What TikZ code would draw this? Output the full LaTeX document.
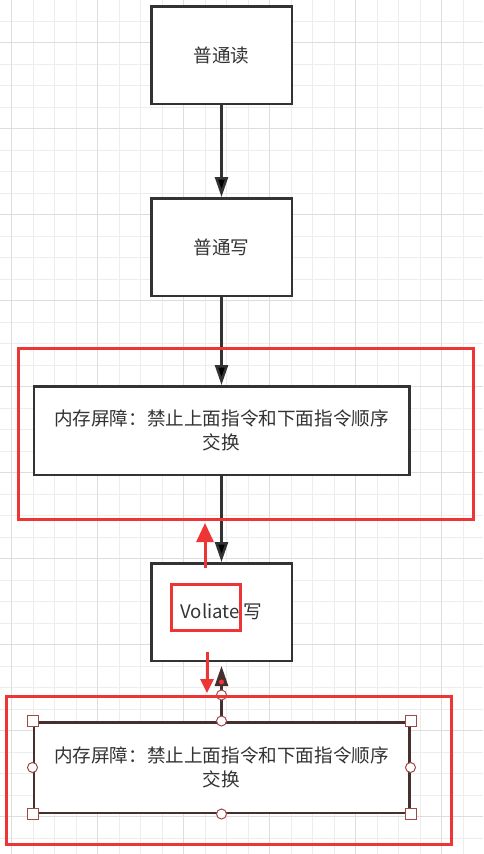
\documentclass[tikz,border=0pt]{standalone}
\usepackage{fontspec}
\newfontfamily\cjk{Noto Sans CJK SC}
\usetikzlibrary{positioning,arrows.meta}
\definecolor{ink}{HTML}{333333}
\definecolor{redmark}{HTML}{EE3535}
\definecolor{sel}{HTML}{45302F}
\definecolor{hnd}{HTML}{A04848}
\definecolor{gmin}{HTML}{EDEDED}
\definecolor{gmaj}{HTML}{DDDDDD}

\begin{document}
\begin{tikzpicture}[x=1pt, y=-1pt,
  b/.style={rectangle, draw=ink, line width=2.5pt, fill=white, text=ink, inner sep=0pt, minimum width=140.5pt, minimum height=97.5pt, align=center, font=\cjk\fontsize{18.6}{24}\selectfont},
  w/.style={b, minimum width=375.5pt, minimum height=88.5pt},
  a/.style={draw=ink, line width=2.5pt, -{Triangle[width=13pt,length=20pt]}},
  r/.style={draw=redmark, line width=3pt},
  h/.style={draw=hnd, fill=white, line width=1pt}]
	\useasboundingbox[fill=white] (0,0) rectangle (483,854);
	% grid
	\foreach \x in {11.5,33,...,483} \draw[gmin, line width=1pt] (\x,0) -- (\x,854);
	\foreach \y in {21,42.5,...,854} \draw[gmin, line width=1pt] (0,\y) -- (483,\y);
	\foreach \x in {11.5,97.5,...,483} \draw[gmaj, line width=1pt] (\x,0) -- (\x,854);
	\foreach \y in {42.5,128.5,...,854} \draw[gmaj, line width=1pt] (0,\y) -- (483,\y);

	\node[b] (rd) at (221.5,55) {普通读};
	\node[b, below=92pt of rd] (wr) {普通写};
	\node[w, below=88pt of wr] (bar1) {内存屏障：禁止上面指令和下面指令顺序\\交换};
	\node[b, below=86pt of bar1] (vw) {Voliate 写};
	\node[w, draw=sel, minimum height=90.5pt, below=59pt of vw] (bar2) {内存屏障：禁止上面指令和下面指令顺序\\交换};

	\path[a] (rd) edge (wr);
	\path[a] (wr) edge (bar1);
	\path[a] (bar1) edge (vw);
	\draw[a, draw=sel, shorten >=4pt] (bar2.north) -- (vw.south);

	% selection handles
	\fill[redmark] (221.5,682) circle (2.5);
	\draw[h] (221.5,695) circle (5);
	\foreach \k in {north west, north east, south west, south east}
		\draw[h] ([shift={(-5.5,-5.5)}]bar2.\k) rectangle ++(11,11);
	\foreach \k in {north, south, east, west}
		\draw[h] (bar2.\k) circle (5);

	% red marks
	\draw[r] (18.5,348.5) rectangle (473.5,519.5);
	\draw[r] (6.5,696.5) rectangle (451.5,844.5);
	\draw[r] (171.5,584.5) rectangle (240.5,630.5);
	\coordinate (up0) at (205,568);
	\coordinate (up1) at (205,523);
	\coordinate (dn0) at (207,652);
	\coordinate (dn1) at (207,693);
	\draw[r, -{Triangle[width=17pt,length=19pt]}] (up0) -- (up1);
	\draw[r, -{Triangle[width=13pt,length=14pt]}] (dn0) -- (dn1);
\end{tikzpicture}
\end{document}
